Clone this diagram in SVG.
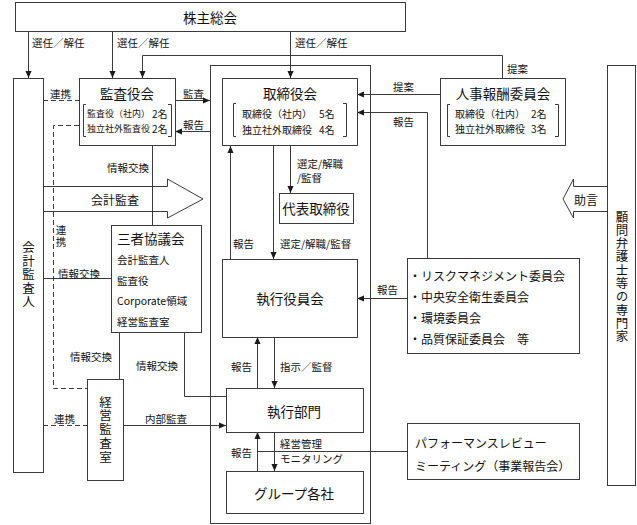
<svg xmlns="http://www.w3.org/2000/svg" width="637" height="525" viewBox="0 0 637 525">
<style>
text{font-family:"Noto Sans CJK JP","Noto Sans CJK SC",sans-serif;fill:#111;dominant-baseline:central}
.box{fill:#fff;stroke:#3a3a3a;stroke-width:1}
.ln{fill:none;stroke:#3a3a3a;stroke-width:1}
.dash{stroke-dasharray:5 3}
.arr{marker-end:url(#ah)}
.t{font-size:13.5px}
.s{font-size:10.5px}
.b{font-size:10px}
.b9{font-size:9px}
.m{font-size:12px}
.v{font-size:12.5px;text-anchor:middle;writing-mode:vertical-rl}
.sv{font-size:10.5px;text-anchor:middle;writing-mode:vertical-rl}
.c{text-anchor:middle}
</style>
<defs>
<marker id="ah" viewBox="0 0 8 8" refX="8" refY="4" markerWidth="7" markerHeight="7" markerUnits="userSpaceOnUse" orient="auto">
<path d="M0,0.5 L8,4 L0,7.5 z" fill="#1a1a1a"/>
</marker>
</defs>
<rect width="637" height="525" fill="#fff"/>

<g id="frame"><rect class="ln" x="210.5" y="65.5" width="160" height="458"/></g>

<g id="connectors">
<path class="ln arr" d="M28.5,31 V78"/>
<path class="ln arr" d="M112.5,31 V78"/>
<path class="ln arr" d="M290.5,31 V78"/>
<path class="ln arr" d="M502.5,78 V55.5 H142.5 V78"/>
<path class="ln arr" d="M175,100.5 H210"/>
<path class="ln arr" d="M210,131.5 H175"/>
<path class="ln dash" d="M43,100.5 H79"/>
<path class="ln dash" d="M79,125.5 H53.5 V388.5 H87"/>
<path class="ln" d="M152.5,145 V225"/>
<path class="ln" d="M43,278.5 H111"/>
<path class="ln" d="M119.5,332 V379"/>
<path class="ln" d="M184.5,332 V396.5 H226"/>
<path class="ln dash" d="M43,425.5 H87"/>
<path class="ln arr" d="M123,425.5 H226"/>
<path class="ln arr" d="M290.5,146 V193"/>
<path class="ln arr" d="M273.5,146 V259"/>
<path class="ln arr" d="M230.5,259 V146"/>
<path class="ln arr" d="M440,94.5 H357"/>
<path class="ln arr" d="M427.5,258 V112.5 H357"/>
<path class="ln arr" d="M407,298.5 H357"/>
<path class="ln arr" d="M257.5,388 V337"/>
<path class="ln arr" d="M274.5,337 V388"/>
<path class="ln arr" d="M257.5,471 V432"/>
<path class="ln arr" d="M274.5,432 V471"/>
<path class="ln" d="M257.5,451.5 H407"/>
<path class="ln" d="M43,186.5 H167.5 V179 L203,199 L167.5,218 V211.5 H43"/>
<path class="ln" d="M607,186.5 H573.5 V179 L563,199 L573.5,218 V211.5 H607"/>
</g>

<g id="labels">
<text class="s" x="32" y="42">選任／解任</text>
<text class="s" x="117" y="42">選任／解任</text>
<text class="s" x="295" y="42">選任／解任</text>
<text class="s" x="507" y="68">提案</text>
<text class="s" x="50" y="93">連携</text>
<text class="s" x="183" y="93">監査</text>
<text class="s" x="183" y="124">報告</text>
<text class="s" x="393" y="86">提案</text>
<text class="s" x="393" y="121">報告</text>
<text class="s" x="107" y="167">情報交換</text>
<text class="m c" x="115" y="199">会計監査</text>
<text class="m c" x="586" y="199">助言</text>
<text class="sv" x="61" y="237" letter-spacing="1.5">連携</text>
<text class="s" x="58" y="273">情報交換</text>
<text class="s" x="70" y="356">情報交換</text>
<text class="s" x="136" y="365">情報交換</text>
<text class="s" x="54" y="418">連携</text>
<text class="s" x="145" y="418">内部監査</text>
<text class="s" x="297" y="163">選定/解職</text>
<text class="s" x="297" y="177">/監督</text>
<text class="s" x="233" y="243">報告</text>
<text class="s" x="280" y="243">選定/解職/監督</text>
<text class="s" x="377" y="289">報告</text>
<text class="s" x="231" y="366">報告</text>
<text class="s" x="280" y="366">指示／監督</text>
<text class="s" x="231" y="452">報告</text>
<text class="s" x="280" y="443">経営管理</text>
<text class="s" x="280" y="458">モニタリング</text>
</g>

<g id="kabunushi">
<rect class="box" x="15.5" y="2.5" width="390" height="29"/>
<text class="t c" x="210" y="17">株主総会</text>
</g>

<g id="kaikei">
<rect class="box" x="13.5" y="78.5" width="30" height="394"/>
<text class="v" x="28.5" y="275" letter-spacing="1">会計監査人</text>
</g>

<g id="kansayakukai">
<rect class="box" x="79.5" y="78.5" width="96" height="67"/>
<text class="t c" x="127" y="93">監査役会</text>
<path class="ln" d="M86,104.5 H83.5 V136.5 H86 M168,104.5 H171.5 V136.5 H168"/>
<text class="b9" x="87" y="113">監査役（社内）</text>
<text class="b" x="152" y="113">2名</text>
<text class="b9" x="87" y="128">独立社外監査役</text>
<text class="b" x="152" y="128">2名</text>
</g>

<g id="torishimariyakukai">
<rect class="box" x="222.5" y="78.5" width="135" height="67"/>
<text class="t c" x="290" y="93">取締役会</text>
<path class="ln" d="M236,103.5 H233.5 V136.5 H236 M343,103.5 H346.5 V136.5 H343"/>
<text class="b" x="242" y="113">取締役（社内）</text>
<text class="b" x="319" y="113">5名</text>
<text class="b" x="242" y="129">独立社外取締役</text>
<text class="b" x="319" y="129">4名</text>
</g>

<g id="jinji">
<rect class="box" x="440.5" y="78.5" width="125" height="67"/>
<text class="t c" x="503" y="93">人事報酬委員会</text>
<path class="ln" d="M450,104.5 H447.5 V136.5 H450 M555,104.5 H558.5 V136.5 H555"/>
<text class="b" x="455" y="113">取締役（社内）</text>
<text class="b" x="531" y="113">2名</text>
<text class="b" x="455" y="128">独立社外取締役</text>
<text class="b" x="531" y="128">3名</text>
</g>

<g id="komon">
<rect class="box" x="607.5" y="65.5" width="28" height="420"/>
<text class="v" x="622" y="277" letter-spacing="0.8">顧問弁護士等の専門家</text>
</g>

<g id="daihyo">
<rect class="box" x="279.5" y="193.5" width="74" height="30"/>
<text class="t c" x="316" y="208">代表取締役</text>
</g>

<g id="sansha">
<rect class="box" x="111.5" y="225.5" width="90" height="107"/>
<text class="t" x="117" y="238">三者協議会</text>
<text class="s" x="117" y="259">会計監査人</text>
<text class="s" x="117" y="280">監査役</text>
<text class="s" x="117" y="300">Corporate領域</text>
<text class="s" x="117" y="321">経営監査室</text>
</g>

<g id="shikkoyakuinkai">
<rect class="box" x="222.5" y="259.5" width="135" height="78"/>
<text class="t c" x="290" y="298">執行役員会</text>
</g>

<g id="iinkai">
<rect class="box" x="407.5" y="258.5" width="172" height="95"/>
<text class="m" x="409" y="275">・リスクマネジメント委員会</text>
<text class="m" x="409" y="296">・中央安全衛生委員会</text>
<text class="m" x="409" y="317">・環境委員会</text>
<text class="m" x="409" y="338">・品質保証委員会　等</text>
</g>

<g id="keieikansashitsu">
<rect class="box" x="87.5" y="379.5" width="36" height="101"/>
<text class="v" x="105.5" y="430" letter-spacing="1.25">経営監査室</text>
</g>

<g id="shikkobumon">
<rect class="box" x="226.5" y="388.5" width="137" height="44"/>
<text class="t c" x="294" y="411">執行部門</text>
</g>

<g id="group">
<rect class="box" x="226.5" y="471.5" width="137" height="42"/>
<text class="t c" x="294" y="493">グループ各社</text>
</g>

<g id="performance">
<rect class="box" x="407.5" y="423.5" width="172" height="56"/>
<text class="m" x="415" y="442">パフォーマンスレビュー</text>
<text class="m" x="415" y="465">ミーティング（事業報告会）</text>
</g>
</svg>
